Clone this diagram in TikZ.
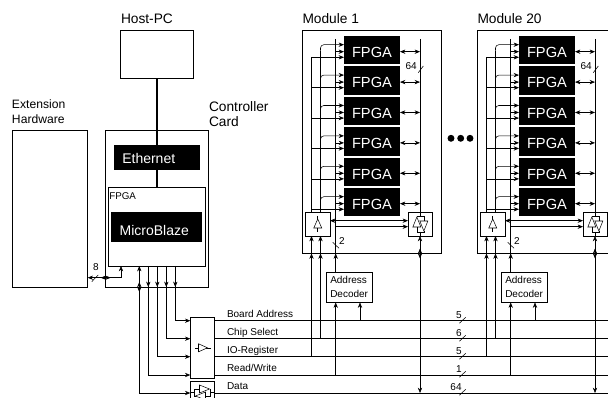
\documentclass[tikz,border=0pt]{standalone}
\usepackage{fontspec}
\setmainfont{Liberation Sans}
\usetikzlibrary{arrows.meta,calc}
\newcommand{\fs}[1]{\fontsize{#1}{#1}\selectfont}
\tikzset{
  x=0.75pt,y=-0.75pt,
  line width=0.8pt,
  tip/.style={-{Stealth[length=4pt,width=3.2pt]}},
  dtip/.style={{Stealth[length=4pt,width=3.2pt]}-{Stealth[length=4pt,width=3.2pt]}},
  bw/.style={draw=black,fill=white,inner sep=0pt,outer sep=0pt},
  bk/.style={fill=black,text=white,inner sep=0pt,outer sep=0pt},
  lab/.style={anchor=base west,inner sep=0pt,outer sep=0pt},
  biglab/.style={lab,font=\fs{10.3}},
  buslab/.style={lab,font=\fs{7.5}},
  numlab/.style={anchor=base,inner sep=0pt,outer sep=0pt,font=\fs{7.5}},
  thick link/.style={line width=1.5pt},
  dot/.style={circle,fill=black,inner sep=0pt,minimum size=5.2pt},
  pics/buf/.style={code={
    \draw (0,-8) -- (0,8);
    \draw[fill=white] (0,-5) -- (4,4) -- (-4,4) -- cycle;
  }},
  pics/bidir/.style={code={
    \draw[fill=white] (-3.5,-7) -- (0.5,3) -- (-7.5,3) -- cycle;
    \draw[fill=white] (3.5,7) -- (7.5,-3) -- (-0.5,-3) -- cycle;
    \draw (-3.5,3) -- (-3.5,8) -- (3.5,8) -- (3.5,7);
    \draw (3.5,-3) -- (3.5,-8) -- (-3.5,-8) -- (-3.5,-7);
    \draw (0,-8) -- (0,-12) (0,8) -- (0,12);
  }},
}
% style, name, x1, y1, x2, y2, text
\newcommand{\bx}[7]{%
  \pgfmathsetmacro{\bxw}{(#5-(#3))*0.75}%
  \pgfmathsetmacro{\bxh}{(#6-(#4))*0.75}%
  \pgfmathsetmacro{\bxx}{(#3+#5)/2}%
  \pgfmathsetmacro{\bxy}{(#4+#6)/2}%
  \node[#1,minimum width=\bxw pt,minimum height=\bxh pt] (#2) at (\bxx,\bxy) {#7};%
}
\begin{document}
\begin{tikzpicture}
\clip (0,0) rectangle (608,398);
\fill[white] (0,0) rectangle (608,398);

% bus rail coordinates
\foreach \i/\yy in {1/320.7,2/338.7,3/356.7,4/375,5/393}{
  \coordinate (busR\i) at (608,\yy);
}

% left part
\bx{bw}{ext}{12}{130}{87.7}{287}{}
\bx{bw}{host}{120.7}{30}{193.3}{78.7}{}
\bx{bw}{ctrl}{105.7}{130}{208.7}{287}{}
\bx{bw}{cfpga}{108.7}{187.7}{205.3}{266}{}
\bx{bk,font=\fs{10.5},text height=8.6pt,text depth=0pt}{eth}{114.3}{145}{200}{169.7}{\makebox[64.3pt][l]{\hspace{6pt}Ethernet}}
\bx{bk,font=\fs{10.5},text height=12pt,text depth=0pt}{mb}{111}{212}{202.3}{242.3}{\makebox[68.5pt][l]{\hspace{6.5pt}MicroBlaze}}
\node[lab,font=\fs{7.35}] (cfpgal) at (109.3,200) {FPGA};
\node[biglab] (lhost) at (121,23.3) {Host-PC};
\node[biglab] (lctrl) at (209,112) {Controller};
\node[biglab] (lcard) at (209,126.7) {Card};
\node[lab,font=\fs{9.1}] (lext) at (12,109) {Extension};
\node[lab,font=\fs{9.1}] (lhw) at (12,124) {Hardware};

% host link
\draw[thick link] (host.south -| eth.center) ++(0,0) coordinate (hs) -- (eth.north -| hs);
\draw[thick link] (eth.south -| hs) -- (cfpga.north -| hs);

% extension link
\coordinate (eknee) at (121,277.7);
\draw[tip] (eknee) -- (eknee |- cfpga.south);
\draw[tip] (eknee) -- (eknee -| ext.east);
\coordinate (ecross) at (105.7,277.7);
\draw[dtip] ($(ecross)+(-5,0)$) -- ($(ecross)+(5,0)$);
\coordinate (s8a) at (91.7,281.7);
\coordinate (s8b) at (98.3,275);
\draw (s8a) -- (s8b);
\node[numlab] (l8) at (96,271) {8};

% bus driver boxes
\bx{bw}{mux}{190.3}{317.3}{214.7}{378.3}{}
\bx{bw}{dbuf}{190.3}{381}{214.7}{405}{}
\pic[rotate=-90] at (mux.center) {buf};
\pic[rotate=90] at (202.5,392.5) {bidir};

% controller to bus
\foreach \i/\xx in {1/175.3,2/166.3,3/157.3,4/148.3}{
  \coordinate (cv\i) at (\xx,266);
  \draw[tip] (cv\i) |- (mux.west |- busR\i);
  \draw[tip] ($(cv\i |- ctrl.south)+(0,-5)$) -- (cv\i |- ctrl.south);
}
\coordinate (cv5) at (139.3,266);
\draw[tip] (cv5 |- busR5) -- (cv5);
\draw[tip] (cv5 |- busR5) -- (dbuf.west |- busR5);
\draw[dtip] ($(cv5 |- ctrl.south)+(0,-5)$) -- ($(cv5 |- ctrl.south)+(0,5)$);

% buses
\foreach \i in {1,2,3,4}{\draw (mux.east |- busR\i) -- (busR\i);}
\draw (dbuf.east |- busR5) -- (busR5);

\node[buslab] (lb1) at (227,318) {Board Address};
\node[buslab] (lb2) at (227,336) {Chip Select};
\node[buslab] (lb3) at (227,354) {IO-Register};
\node[buslab] (lb4) at (227,372) {Read/Write};
\node[buslab] (lb5) at (227,390) {Data};
\foreach \i/\t/\yy/\xx in {1/5/318.3/459,2/6/336.3/459,3/5/354.3/459,4/1/372.3/459,5/64/390.3/456}{
  \node[numlab] (ln\i) at (\xx,\yy) {\t};
  \coordinate (sa\i) at (459.3,\yy+5);
  \coordinate (sb\i) at (465.7,\yy-1);
  \draw (sa\i) -- (sb\i);
}

% dots between modules
\node[dot] (d1) at (451,138.3) {};
\node[dot] (d2) at (460.7,138.3) {};
\node[dot] (d3) at (470,138.3) {};

% modules
\foreach \m/\dx/\title in {a/0/Module 1,b/175/Module 20}{
  \pgfmathsetmacro{\xl}{302+\dx}
  \pgfmathsetmacro{\xr}{441.6+\dx}
  \bx{bw}{\m mod}{\xl}{30}{\xr}{253.5}{}
  \pgfmathsetmacro{\tx}{\xl+0.5}
  \node[biglab] (\m title) at (\tx,23.5) {\title};

  \pgfmathsetmacro{\vp}{311.5+\dx}
  \pgfmathsetmacro{\vq}{320.5+\dx}
  \pgfmathsetmacro{\va}{335.7+\dx}
  \pgfmathsetmacro{\vr}{420+\dx}
  \pgfmathsetmacro{\vd}{360+\dx}
  \coordinate (\m vP) at (\vp,57.3);
  \coordinate (\m vQ) at (\vq,44.7);
  \coordinate (\m vA) at (\va,39);
  \coordinate (\m vR) at (\vr,39);
  \coordinate (\m vD) at (\vd,320.7);

  % buffers and decoder
  \pgfmathsetmacro{\ba}{305.5+\dx}\pgfmathsetmacro{\bb}{330+\dx}
  \bx{bw}{\m bl}{\ba}{212}{\bb}{236}{}
  \pgfmathsetmacro{\ba}{408+\dx}\pgfmathsetmacro{\bb}{432.7+\dx}
  \bx{bw}{\m br}{\ba}{212}{\bb}{236}{}
  \pic at (\m bl.center) {buf};
  \pic at (\m br.center) {bidir};
  \pgfmathsetmacro{\ba}{326.3+\dx}\pgfmathsetmacro{\bb}{372+\dx}
  \bx{bw,align=left,font=\fontsize{7.5}{10.5}\selectfont}{\m dec}{\ba}{272}{\bb}{302.5}{Address\\Decoder}

  % FPGA rows
  \foreach \k in {0,...,5}{
    \pgfmathsetmacro{\ry}{36+30.4*\k}
    \pgfmathsetmacro{\rb}{\ry+28.4}
    \pgfmathsetmacro{\fa}{344+\dx}\pgfmathsetmacro{\fb}{400+\dx}
    \bx{bk,font=\fs{11},text height=11pt,text depth=0pt}{\m f\k}{\fa}{\ry}{\fb}{\rb}{FPGA}
    \pgfmathsetmacro{\ya}{\ry+8.7}
    \pgfmathsetmacro{\yb}{\ry+15.7}
    \pgfmathsetmacro{\yc}{\ry+21.3}
    \coordinate (\m ra\k) at (0,\ya);
    \coordinate (\m rb\k) at (0,\yb);
    \coordinate (\m rc\k) at (0,\yc);
    \coordinate (\m qs\k) at (\vq,\ya+6);
    \draw[tip,rounded corners=2.5pt] (\m qs\k) -- (\m vQ |- \m ra\k) -- (\m f\k.west |- \m ra\k);
    \draw[tip] (\m vA |- \m rb\k) -- (\m f\k.west |- \m rb\k);
    \draw[tip] (\m vP |- \m rc\k) -- (\m f\k.west |- \m rc\k);
    \draw[dtip] (\m f\k.east |- \m rb\k) -- (\m vR |- \m rb\k);
  }
  % verticals in module
  \draw (\m vP) -- (\m vP |- \m bl.north);
  \draw (\m qs0) -- (\m vQ |- \m bl.north);
  \draw (\m vA) -- (\m vA |- \m dec.north);
  \draw (\m vR) -- (\m vR |- \m br.north);

  % links between buffers
  \coordinate (\m hu) at (0,220.7);
  \coordinate (\m hl) at (0,226.7);
  \draw[dtip] (\m bl.east |- \m hu) -- (\m br.west |- \m hu);
  \draw[tip] (\m vA |- \m hl) -- (\m br.west |- \m hl);

  % from buses
  \draw[tip] (\m vP |- busR3) -- (\m vP |- \m bl.south);
  \draw[tip] (\m vQ |- busR2) -- (\m vQ |- \m bl.south);
  \draw[tip] (\m vA |- busR4) -- (\m vA |- \m dec.south);
  \draw[tip] (\m vD) -- (\m vD |- \m dec.south);
  \draw[dtip] (\m vR |- busR5) -- (\m vR |- \m br.south);
  \draw[tip] ($(\m vP |- \m mod.south)+(0,5)$) -- (\m vP |- \m mod.south);
  \draw[tip] ($(\m vQ |- \m mod.south)+(0,5)$) -- (\m vQ |- \m mod.south);
  \draw[tip] ($(\m vA |- \m mod.south)+(0,5)$) -- (\m vA |- \m mod.south);
  \draw[dtip] ($(\m vR |- \m mod.south)+(0,-5)$) -- ($(\m vR |- \m mod.south)+(0,5)$);

  % width marks
  \coordinate (\m sa) at ({332.7+\dx},242.3);
  \coordinate (\m sb) at ({339+\dx},248.3);
  \draw (\m sa) -- (\m sb);
  \node[numlab,anchor=base west] (\m two) at ({339+\dx},244.3) {2};
  \coordinate (\m sc) at ({418.3+\dx},72.7);
  \coordinate (\m sd) at ({423.3+\dx},66);
  \draw (\m sc) -- (\m sd);
  \node[numlab,anchor=base west] (\m six) at ({405.5+\dx},70) {64};
}
\end{tikzpicture}
\end{document}
